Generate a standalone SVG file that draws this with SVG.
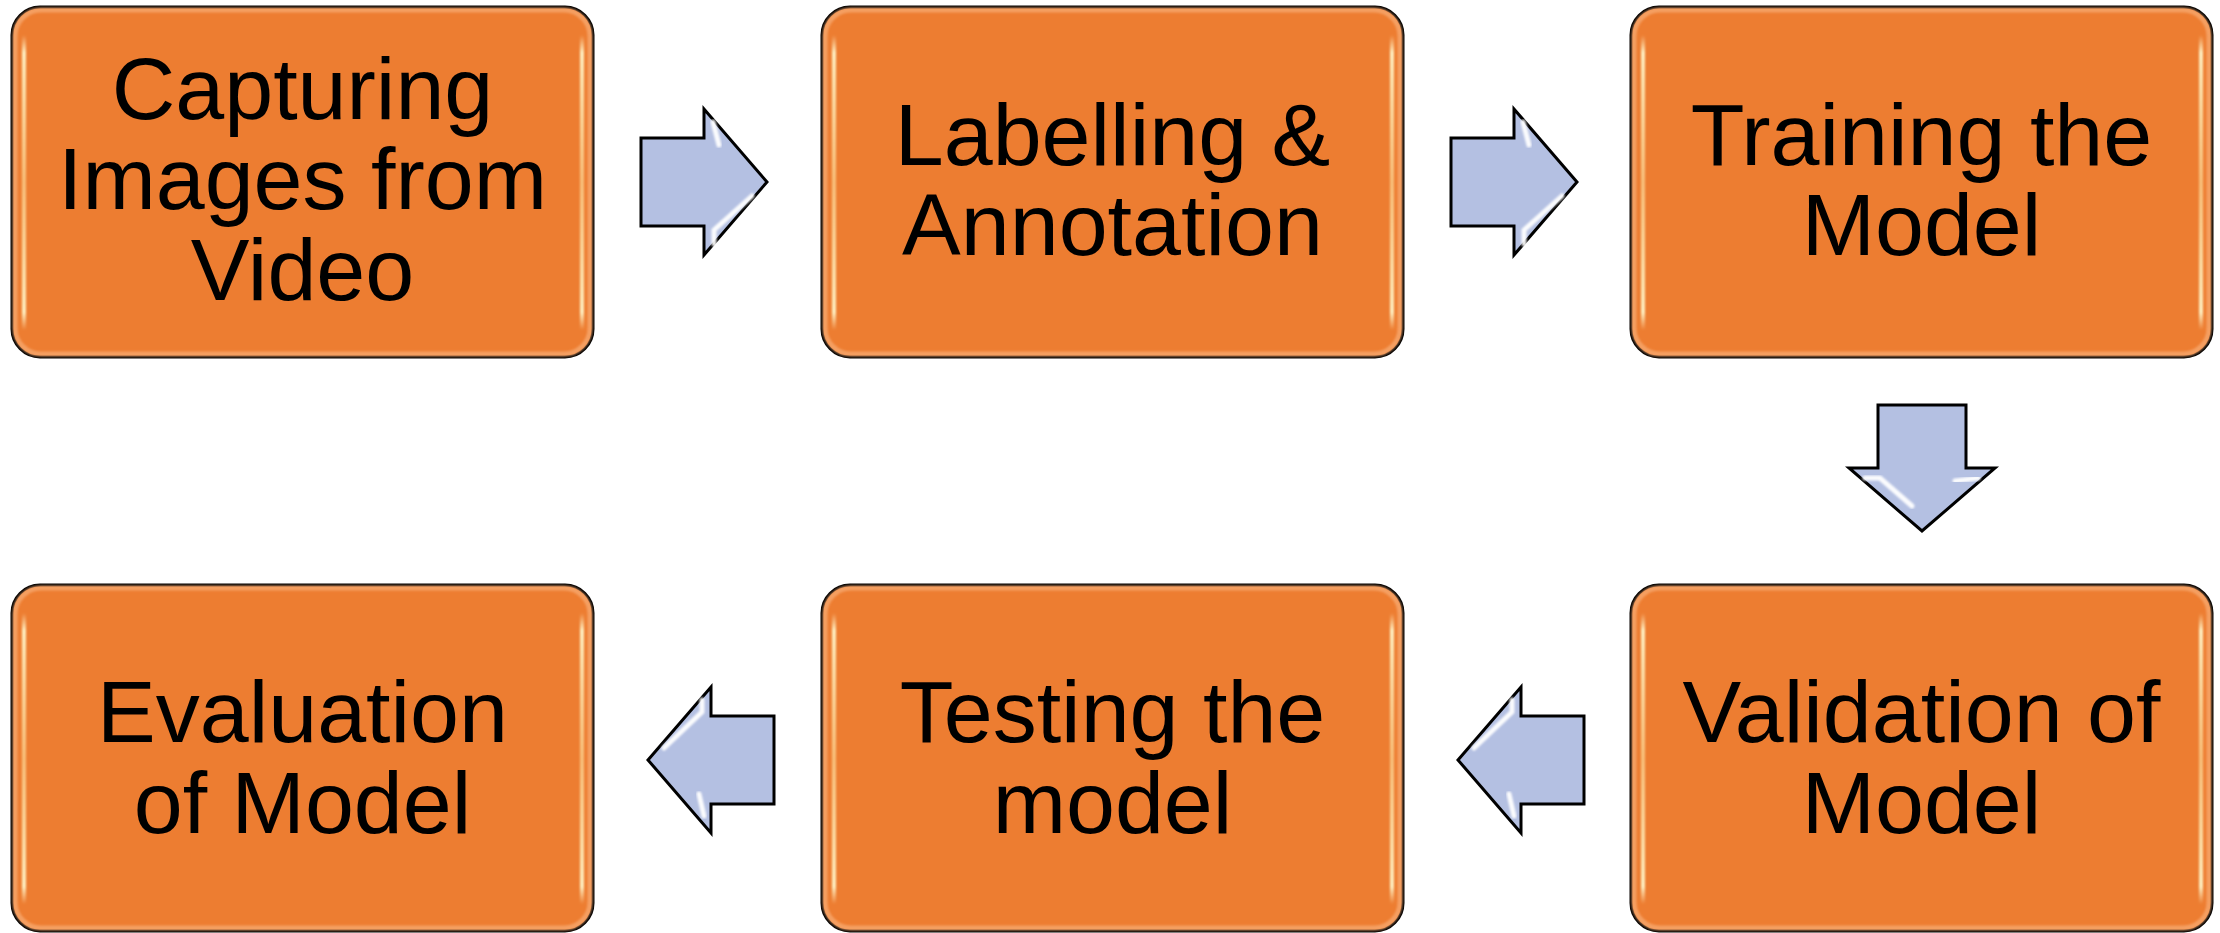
<svg xmlns="http://www.w3.org/2000/svg" width="2220" height="933" viewBox="0 0 2220 933">
<style>
  .box{fill:#ED7D31;stroke:#000;stroke-width:3}
  .rim{fill:none;stroke:#F7A86E;stroke-width:5;opacity:0.8;filter:url(#soft)}
  .gl{fill:url(#gloss);filter:url(#soft)}
  .lbl{font-family:"Liberation Sans",Arial,sans-serif;font-size:88px;fill:#000;text-anchor:middle}
  .arrow{fill:#B4C0E2;stroke:#000;stroke-width:3;stroke-linejoin:miter}
  .hl{fill:none;stroke:#FFFFFF;stroke-width:5;stroke-linecap:round;opacity:0.95;filter:url(#soft)}
</style>
<defs>
  <linearGradient id="gloss" x1="0" y1="0" x2="0" y2="1">
    <stop offset="0" stop-color="#FFF4C8" stop-opacity="0"/>
    <stop offset="0.06" stop-color="#FFF4C8" stop-opacity="0.95"/>
    <stop offset="0.5" stop-color="#FFE9A8" stop-opacity="0.6"/>
    <stop offset="0.94" stop-color="#FFF4C8" stop-opacity="0.95"/>
    <stop offset="1" stop-color="#FFF4C8" stop-opacity="0"/>
  </linearGradient>
  <filter id="soft" x="-50%" y="-10%" width="200%" height="120%">
    <feGaussianBlur stdDeviation="1"/>
  </filter>
</defs>
<rect width="2220" height="933" fill="#FFFFFF"/>

<g id="connectors">
  <g id="a1">
    <path class="arrow" d="M641,138 L704,138 L704,109 L767,182 L704,255 L704,226 L641,226 Z"/>
    <path class="hl" d="M650,150 L650,214"/>
    <path class="hl" d="M713,122 L719,145"/>
    <path class="hl" d="M714,244 L714,230 L752,196"/>
  </g>
  <g id="a2">
    <path class="arrow" d="M1451,138 L1514,138 L1514,109 L1577,182 L1514,255 L1514,226 L1451,226 Z"/>
    <path class="hl" d="M1460,150 L1460,214"/>
    <path class="hl" d="M1523,122 L1529,145"/>
    <path class="hl" d="M1524,244 L1524,230 L1562,196"/>
  </g>
  <g id="a3">
    <path class="arrow" d="M1878,405 L1966,405 L1966,468 L1995,468 L1922,531 L1849,468 L1878,468 Z"/>
    <path class="hl" d="M1890,414 L1954,414"/>
    <path class="hl" d="M1865,478 L1880,478 L1912,506"/>
    <path class="hl" d="M1955,481 L1978,478"/>
  </g>
  <g id="a4">
    <path class="arrow" d="M1458,760 L1521,687 L1521,716 L1584,716 L1584,804 L1521,804 L1521,833 Z"/>
    <path class="hl" d="M1575,728 L1575,792"/>
    <path class="hl" d="M1512,700 L1512,712 L1474,748"/>
    <path class="hl" d="M1509,794 L1514,816"/>
  </g>
  <g id="a5">
    <path class="arrow" d="M648,760 L711,687 L711,716 L774,716 L774,804 L711,804 L711,833 Z"/>
    <path class="hl" d="M765,728 L765,792"/>
    <path class="hl" d="M702,700 L702,712 L664,748"/>
    <path class="hl" d="M699,794 L704,816"/>
  </g>
</g>

<g id="n1">
  <rect class="box" x="12" y="7" width="581" height="350" rx="28"/>
  <rect class="rim" x="15" y="10" width="575" height="344" rx="26"/>
  <rect class="gl" x="22" y="35" width="4" height="295"/>
  <rect class="gl" x="580" y="35" width="4" height="295"/>
  <text class="lbl" x="302.5" y="119">Capturing</text>
  <text class="lbl" x="302.5" y="209">Images from</text>
  <text class="lbl" x="302.5" y="300">Video</text>
</g>
<g id="n2">
  <rect class="box" x="822" y="7" width="581" height="350" rx="28"/>
  <rect class="rim" x="825" y="10" width="575" height="344" rx="26"/>
  <rect class="gl" x="832" y="35" width="4" height="295"/>
  <rect class="gl" x="1390" y="35" width="4" height="295"/>
  <text class="lbl" x="1112.5" y="165">Labelling &amp;</text>
  <text class="lbl" x="1112.5" y="255">Annotation</text>
</g>
<g id="n3">
  <rect class="box" x="1631" y="7" width="581" height="350" rx="28"/>
  <rect class="rim" x="1634" y="10" width="575" height="344" rx="26"/>
  <rect class="gl" x="1641" y="35" width="4" height="295"/>
  <rect class="gl" x="2199" y="35" width="4" height="295"/>
  <text class="lbl" x="1921.5" y="165">Training the</text>
  <text class="lbl" x="1921.5" y="255">Model</text>
</g>
<g id="n4">
  <rect class="box" x="1631" y="585" width="581" height="346" rx="28"/>
  <rect class="rim" x="1634" y="588" width="575" height="340" rx="26"/>
  <rect class="gl" x="1641" y="613" width="4" height="291"/>
  <rect class="gl" x="2199" y="613" width="4" height="291"/>
  <text class="lbl" x="1921.5" y="742">Validation of</text>
  <text class="lbl" x="1921.5" y="833">Model</text>
</g>
<g id="n5">
  <rect class="box" x="822" y="585" width="581" height="346" rx="28"/>
  <rect class="rim" x="825" y="588" width="575" height="340" rx="26"/>
  <rect class="gl" x="832" y="613" width="4" height="291"/>
  <rect class="gl" x="1390" y="613" width="4" height="291"/>
  <text class="lbl" x="1112.5" y="742">Testing the</text>
  <text class="lbl" x="1112.5" y="833">model</text>
</g>
<g id="n6">
  <rect class="box" x="12" y="585" width="581" height="346" rx="28"/>
  <rect class="rim" x="15" y="588" width="575" height="340" rx="26"/>
  <rect class="gl" x="22" y="613" width="4" height="291"/>
  <rect class="gl" x="580" y="613" width="4" height="291"/>
  <text class="lbl" x="302.5" y="742">Evaluation</text>
  <text class="lbl" x="302.5" y="833">of Model</text>
</g>
</svg>
